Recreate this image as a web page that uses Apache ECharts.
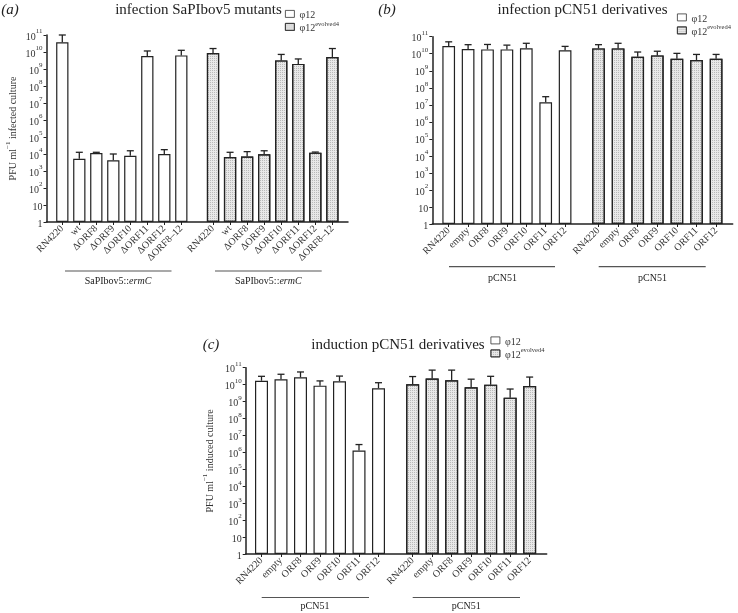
<!DOCTYPE html>
<html>
<head>
<meta charset="utf-8">
<script src="https://cdn.jsdelivr.net/npm/echarts@6/dist/echarts.min.js"></script>
<style>html,body{margin:0;padding:0;background:#fff}#c{width:738px;height:613px}</style>
</head>
<body>
<div id="c"></div>
<script>
// ---------- data ----------
const catsA = ['RN4220','wt','ΔORF8','ΔORF9','ΔORF10','ΔORF11','ΔORF12','ΔORF8–12'];
const catsBC = ['RN4220','empty','ORF8','ORF9','ORF10','ORF11','ORF12'];
const yTicks = ['1','10','10²','10³','10⁴','10⁵','10⁶','10⁷','10⁸','10⁹','10¹⁰','10¹¹'];

// panel (a) infection SaPIbov5 mutants
const aPhi = [3.7e10, 5.3e3, 1.15e4, 4.3e3, 7.9e3, 5.8e9, 1.0e4, 6.3e9];
const aPhiErr = [1.0e11, 1.26e4, 1.26e4, 1.0e4, 1.55e4, 1.15e10, 1.8e4, 1.26e10];
const aEvo = [8.7e9, 6.6e3, 7.2e3, 9.6e3, 3.2e9, 2.0e9, 1.2e4, 5.1e9];
const aEvoErr = [1.6e10, 1.26e4, 1.38e4, 1.55e4, 7.2e9, 3.9e9, 1.3e4, 1.6e10];

// panel (b) infection pCN51 derivatives
const bPhi = [2.8e10, 1.9e10, 1.8e10, 1.8e10, 2.1e10, 1.4e7, 1.6e10];
const bPhiErr = [5.0e10, 3.4e10, 3.5e10, 3.2e10, 4.1e10, 3.0e7, 2.7e10];
const bEvo = [2.05e10, 2.05e10, 6.6e9, 8.0e9, 5.1e9, 4.3e9, 5.1e9];
const bEvoErr = [3.4e10, 4.1e10, 1.26e10, 1.4e10, 1.05e10, 9.1e9, 9.1e9];

// panel (c) induction pCN51 derivatives
const cPhi = [1.7e10, 2.1e10, 2.7e10, 8.7e9, 1.6e10, 1.3e6, 6.1e9];
const cPhiErr = [3.1e10, 4.1e10, 5.6e10, 1.66e10, 3.2e10, 2.9e6, 1.3e10];
const cEvo = [1.05e10, 2.3e10, 1.8e10, 7.0e9, 1.0e10, 1.7e9, 8.3e9];
const cEvoErr = [3.0e10, 7.2e10, 7.2e10, 2.1e10, 3.1e10, 5.5e9, 2.8e10];

const S1 = 'φ12', S2 = 'φ12 evolved4';

// ---------- styles ----------
const FONT = '"Liberation Serif", "DejaVu Serif", serif';
const INK = '#222';
const rich = {
  b: {fontSize: 10, fontFamily: FONT, color: '#333', lineHeight: 14, verticalAlign: 'bottom'},
  sup: {fontSize: 7, fontFamily: FONT, color: '#333', lineHeight: 8, verticalAlign: 'top'}
};
const whiteStyle = {color: '#ffffff', borderColor: INK, borderWidth: 1.2};
const hatchStyle = {
  color: '#e8e8e8', borderColor: INK, borderWidth: 1.2,
  decal: {symbol: 'rect', symbolSize: 1, dashArrayX: [1, 1], dashArrayY: [1, 1], rotation: 0, color: 'rgba(0,0,0,0.2)'}
};

function yLabel(v) {
  const e = Math.round(Math.log10(v));
  if (e === 0) return '{b|1}';
  if (e === 1) return '{b|10}';
  return '{b|10}{sup|' + e + '}';
}

const panels = [
  {ax: 46.5, top: 35, bottom: 222, xEnd: 348, g1: [53.8, 136], g2: [204.5, 136.4], bw: 12.3,
   cats: catsA, v1: aPhi, e1: aPhiErr, v2: aEvo, e2: aEvoErr, yname: 'infected culture', nameGap: 28},
  {ax: 432.3, top: 36.7, bottom: 224, xEnd: 732.7, g1: [439, 135.8], g2: [588.7, 137.2], bw: 12.7,
   cats: catsBC, v1: bPhi, e1: bPhiErr, v2: bEvo, e2: bEvoErr, yname: null},
  {ax: 245.7, top: 367.7, bottom: 554, xEnd: 546.7, g1: [251.75, 136.5], g2: [402.9, 136.5], bw: 13,
   cats: catsBC, v1: cPhi, e1: cPhiErr, v2: cEvo, e2: cEvoErr, yname: 'induced culture', nameGap: 30}
];

const grid = [], xAxis = [], yAxis = [], series = [];

function errRender(params, api) {
  const x = api.value(0), v = api.value(1), e = api.value(2);
  const p0 = api.coord([x, v]);
  const p1 = api.coord([x, e]);
  const hw = 3.5;
  const st = {stroke: INK, lineWidth: 1.3};
  return {type: 'group', children: [
    {type: 'line', shape: {x1: p0[0], y1: p0[1], x2: p1[0], y2: p1[1]}, style: st},
    {type: 'line', shape: {x1: p0[0] - hw, y1: p1[1], x2: p0[0] + hw, y2: p1[1]}, style: st}
  ]};
}

panels.forEach((p, k) => {
  const h = p.bottom - p.top;
  const base = k * 3;
  grid.push({left: p.ax, top: p.top, width: p.xEnd - p.ax, height: h, containLabel: false});
  grid.push({left: p.g1[0], top: p.top, width: p.g1[1], height: h, containLabel: false});
  grid.push({left: p.g2[0], top: p.top, width: p.g2[1], height: h, containLabel: false});

  xAxis.push({gridIndex: base, type: 'value', min: 0, max: 1,
    axisLine: {show: true, onZero: false, lineStyle: {color: INK, width: 1.5}},
    axisTick: {show: false}, axisLabel: {show: false}, splitLine: {show: false}});
  yAxis.push({gridIndex: base, type: 'log', logBase: 10, min: 1, max: 1e11, interval: 1,
    axisLine: {show: true, onZero: false, lineStyle: {color: INK, width: 1.5}},
    axisTick: {show: true, inside: false, length: 3, lineStyle: {color: INK, width: 1}},
    axisLabel: {show: true, margin: 4, formatter: yLabel, rich: rich},
    splitLine: {show: false}, minorTick: {show: false},
    name: p.yname ? '{b|PFU ml}{sup|−1}{b| ' + p.yname + '}' : '',
    nameLocation: 'middle', nameRotate: 90, nameGap: p.nameGap || 0,
    nameTextStyle: {rich: rich}});

  [1, 2].forEach(g => {
    xAxis.push({gridIndex: base + g, type: 'category', data: p.cats, boundaryGap: true,
      axisLine: {show: false}, splitLine: {show: false},
      axisTick: {show: true, alignWithLabel: true, length: 3, lineStyle: {color: INK, width: 1}},
      axisLabel: {show: true, rotate: 45, margin: 5, interval: 0, fontSize: 10, fontFamily: FONT, color: '#333'}});
    yAxis.push({gridIndex: base + g, type: 'log', logBase: 10, min: 1, max: 1e11, interval: 1, show: false});
    const vals = g === 1 ? p.v1 : p.v2;
    const errs = g === 1 ? p.e1 : p.e2;
    series.push({name: g === 1 ? S1 : S2, type: 'bar', xAxisIndex: base + g, yAxisIndex: base + g,
      data: vals, barWidth: p.bw, itemStyle: g === 1 ? whiteStyle : hatchStyle, silent: true, animation: false});
    series.push({name: 'err' + k + g, type: 'custom', xAxisIndex: base + g, yAxisIndex: base + g,
      data: p.cats.map((c, i) => [i, vals[i], errs[i]]), encode: {x: 0, y: 1},
      renderItem: errRender, clip: false, silent: true, animation: false, z: 3});
  });
});

const legendCommon = {orient: 'vertical', itemWidth: 9, itemHeight: 7, itemGap: 0, padding: 0,
  icon: 'rect', selectedMode: false, data: [S1, S2],
  itemStyle: {borderWidth: 0.8, borderColor: '#333'},
  formatter: n => n === S1 ? '{b|φ12}' : '{b|φ12}{sup|evolved4}',
  textStyle: {rich: {b: {fontSize: 10, fontFamily: FONT, color: '#333', lineHeight: 13, verticalAlign: 'bottom'},
                     sup: {fontSize: 6.5, fontFamily: FONT, color: '#333', lineHeight: 8, verticalAlign: 'top'}}}};
const legend = [
  Object.assign({}, legendCommon, {left: 285, top: 10}),
  Object.assign({}, legendCommon, {left: 677, top: 13.5}),
  Object.assign({}, legendCommon, {left: 490.5, top: 336.5})
];

function txt(x, y, text, size, extra) {
  return Object.assign({type: 'text', x: x, y: y, silent: true,
    style: Object.assign({text: text, fontSize: size, fontFamily: FONT, fill: '#222',
      textAlign: 'center', align: 'center', textVerticalAlign: 'middle', verticalAlign: 'middle'}, extra || {})});
}
function hline(x1, x2, y) {
  return {type: 'line', silent: true, shape: {x1: x1, y1: y, x2: x2, y2: y}, style: {stroke: '#555', lineWidth: 1.2}};
}
const iRich = {rich: {i: {fontStyle: 'italic', fontSize: 10, fontFamily: FONT, fill: '#222'}}};
const graphic = [
  txt(10, 10, '(a)', 15, {fontStyle: 'italic'}),
  txt(198.5, 10, 'infection SaPIbov5 mutants', 15),
  txt(387, 10, '(b)', 15, {fontStyle: 'italic'}),
  txt(582.5, 10, 'infection pCN51 derivatives', 15),
  txt(211, 345, '(c)', 15, {fontStyle: 'italic'}),
  txt(398, 345, 'induction pCN51 derivatives', 15),
  hline(65, 171.5, 271), txt(118, 281.5, 'SaPIbov5::{i|ermC}', 10, iRich),
  hline(215, 321.7, 271), txt(268.3, 281.5, 'SaPIbov5::{i|ermC}', 10, iRich),
  hline(449, 555, 266.7), txt(502.5, 278, 'pCN51', 10),
  hline(598.7, 705.7, 266.7), txt(652.5, 278, 'pCN51', 10),
  hline(261.7, 369, 597.5), txt(315, 606, 'pCN51', 10),
  hline(412.7, 520, 597.5), txt(466.3, 606, 'pCN51', 10)
];

const chart = echarts.init(document.getElementById('c'), null, {renderer: 'canvas'});
chart.setOption({
  animation: false,
  backgroundColor: '#fff',
  textStyle: {fontFamily: FONT},
  grid: grid, xAxis: xAxis, yAxis: yAxis, series: series, legend: legend, graphic: graphic
});
</script>
</body>
</html>
